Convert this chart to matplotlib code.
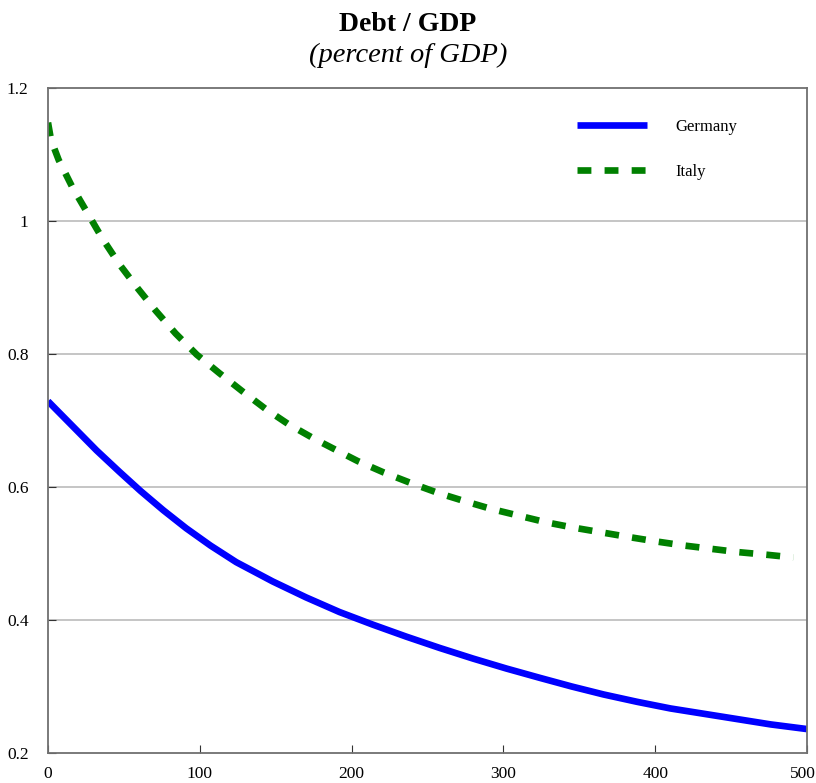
import matplotlib
matplotlib.use("Agg")
import matplotlib.pyplot as plt
import matplotlib.transforms as mtransforms

# values
GERMANY_T = [0, 16, 32, 47, 61, 76, 91, 107, 124, 148, 170, 192, 214, 236,
             258, 280, 302, 324, 345, 366, 388, 410, 432, 454, 476, 500]
GERMANY_Y = [0.729, 0.692, 0.655, 0.623, 0.594, 0.565, 0.538, 0.512, 0.487,
             0.458, 0.434, 0.412, 0.393, 0.375, 0.358, 0.342, 0.327, 0.313,
             0.300, 0.288, 0.277, 0.267, 0.259, 0.251, 0.243, 0.236]

ITALY_T = [0, 2, 7, 16, 26, 36, 47, 59, 71, 84, 98, 113, 128, 143, 158, 175,
           192, 204, 221, 239, 257, 274, 292, 310, 328, 346, 364, 382, 401,
           419, 437, 455, 474, 491]
ITALY_Y = [1.148, 1.122, 1.092, 1.051, 1.012, 0.973, 0.935, 0.899, 0.865,
           0.831, 0.799, 0.771, 0.744, 0.718, 0.695, 0.673, 0.653, 0.639,
           0.622, 0.606, 0.591, 0.579, 0.567, 0.557, 0.547, 0.539, 0.532,
           0.525, 0.518, 0.512, 0.507, 0.502, 0.498, 0.494]

X_TICKS = [0, 100, 200, 300, 400, 500]
Y_TICKS = [0.2, 0.4, 0.6, 0.8, 1.0, 1.2]
Y_LABELS = ["0.2", "0.4", "0.6", "0.8", "1", "1.2"]

plt.rcParams["font.family"] = ["Liberation Serif", "DejaVu Serif"]
plt.rcParams["lines.scale_dashes"] = False

fig = plt.figure(figsize=(8.16, 7.83), dpi=100)
ax = fig.add_axes([48 / 816, 1 - 753 / 783, 759 / 816, 665 / 783])

ax.plot(GERMANY_T, GERMANY_Y, color="#0000ff", lw=4.8, label="Germany",
        solid_capstyle="butt", solid_joinstyle="round")
ax.plot(ITALY_T, ITALY_Y, color="#008000", lw=4.8, label="Italy",
        dashes=(10, 9.5), dash_capstyle="butt")

ax.set_xlim(0, 500)
ax.set_ylim(0.2, 1.2)
ax.set_xticks(X_TICKS)
ax.set_xticklabels([str(t) for t in X_TICKS])
ax.set_yticks(Y_TICKS)
ax.set_yticklabels(Y_LABELS)
ax.tick_params(direction="in", length=6, width=0.8, labelsize=12.5,
               color="#333333")
ax.tick_params(axis="y", pad=14)
ax.tick_params(axis="x", pad=9)

# last x label sits right at the figure edge, nudge it in a little
last = ax.get_xticklabels()[-1]
last.set_transform(last.get_transform() +
                   mtransforms.ScaledTranslation(-4 / 100, 0, fig.dpi_scale_trans))

for y in Y_TICKS[1:-1]:
    ax.axhline(y, color="#c0c0c0", lw=1.3, zorder=0)

for side in ["left", "bottom", "top", "right"]:
    ax.spines[side].set_color("#707070")
    ax.spines[side].set_linewidth(1.3)

ax.legend(loc="upper left", bbox_to_anchor=((577 - 48) / 759, (753 - 119) / 665),
          frameon=False, fontsize=12, handlelength=4.2, handletextpad=1.7,
          labelspacing=1.75, borderpad=0, borderaxespad=0)

fig.text(0.5, 1 - 31 / 783, "Debt / GDP", ha="center", va="baseline",
         fontsize=20, fontweight="bold")
fig.text(0.5, 1 - 62 / 783, "(percent of GDP)", ha="center", va="baseline",
         fontsize=20.5, fontstyle="italic")

fig.savefig("out.png", dpi=100)
